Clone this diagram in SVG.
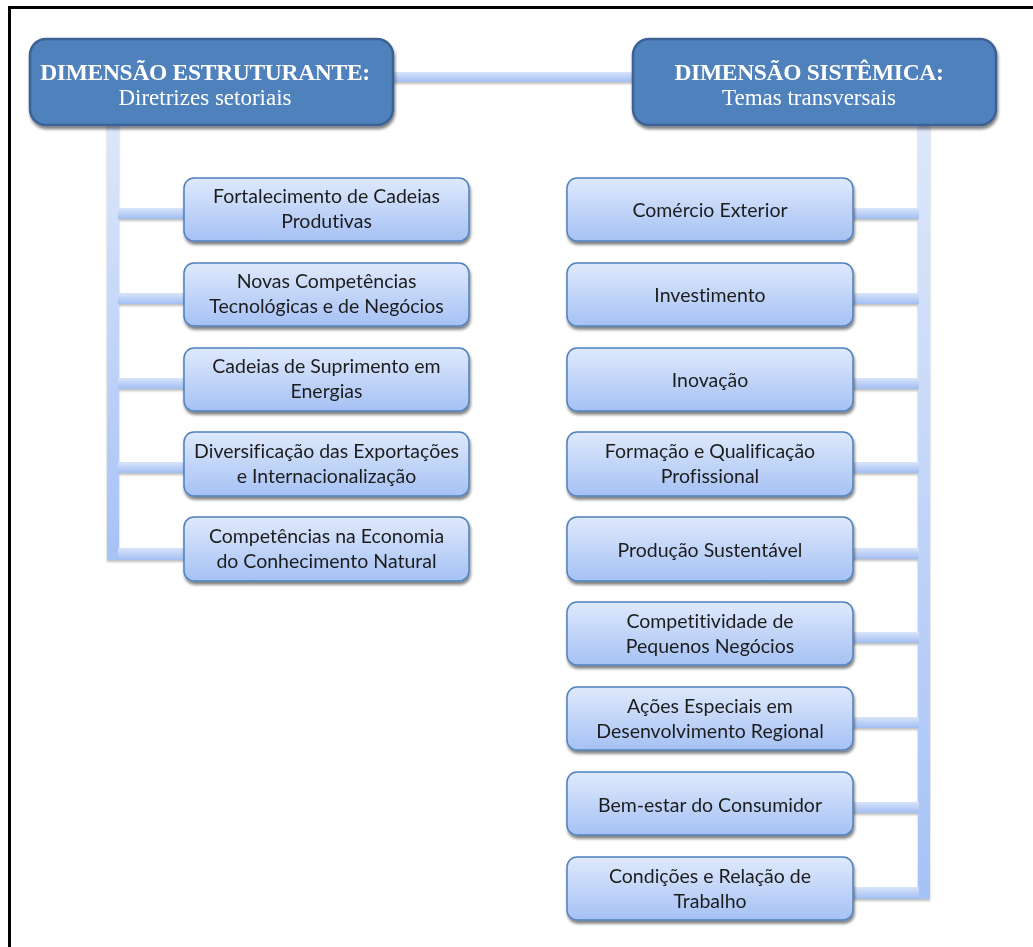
<svg xmlns="http://www.w3.org/2000/svg" width="1033" height="947" viewBox="0 0 1033 947">
<defs>
<linearGradient id="boxg" x1="0" y1="0" x2="0" y2="1">
<stop offset="0" stop-color="#dfe9fc"/>
<stop offset="1" stop-color="#a5c1f4"/>
</linearGradient>
<linearGradient id="vbarL" x1="0" y1="0" x2="0" y2="1">
<stop offset="0" stop-color="#dde7fa"/>
<stop offset="1" stop-color="#a6c2f6"/>
</linearGradient>
<linearGradient id="hbar" x1="0" y1="0" x2="0" y2="1">
<stop offset="0" stop-color="#d9e4fa"/>
<stop offset="1" stop-color="#a2bef2"/>
</linearGradient>
<filter id="sh" x="-10%" y="-10%" width="120%" height="130%">
<feGaussianBlur in="SourceAlpha" stdDeviation="1.5"/>
<feOffset dx="1" dy="3" result="b"/>
<feComponentTransfer><feFuncA type="linear" slope="0.5"/></feComponentTransfer>
<feMerge><feMergeNode/><feMergeNode in="SourceGraphic"/></feMerge>
</filter>
<filter id="bsh" x="-5%" y="-20%" width="110%" height="160%">
<feGaussianBlur in="SourceAlpha" stdDeviation="1"/>
<feOffset dx="0" dy="2"/>
<feComponentTransfer><feFuncA type="linear" slope="0.25"/></feComponentTransfer>
<feMerge><feMergeNode/><feMergeNode in="SourceGraphic"/></feMerge>
</filter>
</defs>
<style>
.hdr rect{fill:#4f81bd;stroke:#3a6293;stroke-width:2.5}
.hdr text{fill:#ffffff;font-family:"Liberation Serif","Times New Roman",serif;text-anchor:middle}
.t1{font-weight:bold;font-size:23.5px;letter-spacing:-0.3px}
.t2{font-size:23px}
.box rect{fill:url(#boxg);stroke:#4f81bd;stroke-width:1.5}
.box text{fill:#1e1e1e;font-family:Lato,"Liberation Sans",Arial,sans-serif;font-size:19.5px;text-anchor:middle;font-variant-ligatures:none}
.bar{fill:url(#hbar)}
</style>
<rect width="1033" height="947" fill="#ffffff"/>
<path d="M9.5 947 V7.5 H1033" fill="none" stroke="#000000" stroke-width="3"/>

<g id="connectors" filter="url(#bsh)">
<rect x="392" y="72" width="242" height="10" class="bar"/>
<rect x="107" y="124" width="12" height="436" fill="url(#vbarL)"/>
<rect x="118" y="208" width="67" height="11" class="bar"/>
<rect x="118" y="293" width="67" height="11" class="bar"/>
<rect x="118" y="378" width="67" height="11" class="bar"/>
<rect x="118" y="462" width="67" height="11" class="bar"/>
<rect x="118" y="548" width="67" height="12" class="bar"/>
<rect x="918" y="124" width="12" height="775" fill="url(#vbarL)"/>
<rect x="852" y="208" width="67" height="11" class="bar"/>
<rect x="852" y="293" width="67" height="11" class="bar"/>
<rect x="852" y="378" width="67" height="11" class="bar"/>
<rect x="852" y="462" width="67" height="11" class="bar"/>
<rect x="852" y="548" width="67" height="11" class="bar"/>
<rect x="852" y="632" width="67" height="11" class="bar"/>
<rect x="852" y="717" width="67" height="11" class="bar"/>
<rect x="852" y="802" width="67" height="11" class="bar"/>
<rect x="852" y="887" width="67" height="12" class="bar"/>
</g>

<g id="hdr-estruturante" class="hdr" filter="url(#sh)">
<rect x="30" y="39" width="363" height="86" rx="16"/>
<text x="205" y="80" class="t1">DIMENSÃO ESTRUTURANTE:</text>
<text x="205" y="105" class="t2">Diretrizes setoriais</text>
</g>
<g id="hdr-sistemica" class="hdr" filter="url(#sh)">
<rect x="633" y="39" width="363" height="86" rx="16"/>
<text x="809" y="80" class="t1">DIMENSÃO SISTÊMICA:</text>
<text x="809" y="105" class="t2">Temas transversais</text>
</g>

<g id="l1" class="box" filter="url(#sh)"><rect x="184" y="178" width="285" height="63" rx="10"/><text x="326.5" y="203">Fortalecimento de Cadeias</text><text x="326.5" y="228">Produtivas</text></g>
<g id="l2" class="box" filter="url(#sh)"><rect x="184" y="263" width="285" height="63" rx="10"/><text x="326.5" y="288">Novas Competências</text><text x="326.5" y="313">Tecnológicas e de Negócios</text></g>
<g id="l3" class="box" filter="url(#sh)"><rect x="184" y="348" width="285" height="63" rx="10"/><text x="326.5" y="373">Cadeias de Suprimento em</text><text x="326.5" y="398">Energias</text></g>
<g id="l4" class="box" filter="url(#sh)"><rect x="184" y="432" width="285" height="64" rx="10"/><text x="326.5" y="458">Diversificação das Exportações</text><text x="326.5" y="483">e Internacionalização</text></g>
<g id="l5" class="box" filter="url(#sh)"><rect x="184" y="517" width="285" height="64" rx="10"/><text x="326.5" y="543">Competências na Economia</text><text x="326.5" y="568">do Conhecimento Natural</text></g>

<g id="r1" class="box" filter="url(#sh)"><rect x="567" y="178" width="286" height="63" rx="10"/><text x="710" y="217">Comércio Exterior</text></g>
<g id="r2" class="box" filter="url(#sh)"><rect x="567" y="263" width="286" height="63" rx="10"/><text x="710" y="302">Investimento</text></g>
<g id="r3" class="box" filter="url(#sh)"><rect x="567" y="348" width="286" height="63" rx="10"/><text x="710" y="387">Inovação</text></g>
<g id="r4" class="box" filter="url(#sh)"><rect x="567" y="432" width="286" height="64" rx="10"/><text x="710" y="458">Formação e Qualificação</text><text x="710" y="483">Profissional</text></g>
<g id="r5" class="box" filter="url(#sh)"><rect x="567" y="517" width="286" height="64" rx="10"/><text x="710" y="557">Produção Sustentável</text></g>
<g id="r6" class="box" filter="url(#sh)"><rect x="567" y="602" width="286" height="63" rx="10"/><text x="710" y="628">Competitividade de</text><text x="710" y="653">Pequenos Negócios</text></g>
<g id="r7" class="box" filter="url(#sh)"><rect x="567" y="687" width="286" height="63" rx="10"/><text x="710" y="713">Ações Especiais em</text><text x="710" y="738">Desenvolvimento Regional</text></g>
<g id="r8" class="box" filter="url(#sh)"><rect x="567" y="772" width="286" height="63" rx="10"/><text x="710" y="812">Bem-estar do Consumidor</text></g>
<g id="r9" class="box" filter="url(#sh)"><rect x="567" y="857" width="286" height="63" rx="10"/><text x="710" y="883">Condições e Relação de</text><text x="710" y="908">Trabalho</text></g>
</svg>
